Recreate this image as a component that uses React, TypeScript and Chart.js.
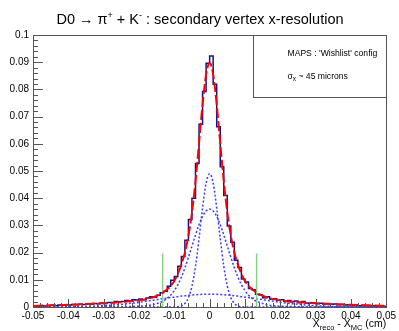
import React, { useEffect, useRef } from "react";
import { Chart, registerables } from "chart.js";

Chart.register(...registerables);

const FONT = '"Liberation Sans", Arial, Helvetica, sans-serif';

// Histogram: 100 bins of width 0.001 cm from -0.05 to 0.05
const histLow = -0.05;
const binWidth = 0.001;
const histCounts = [
  0.0004, 0.0003, 0.0005, 0.0004, 0.0005, 0.0006, 0.0005, 0.0007, 0.0006, 0.0008,
  0.0007, 0.0009, 0.0008, 0.0010, 0.0009, 0.0011, 0.0010, 0.0013, 0.0012, 0.0015,
  0.0013, 0.0017, 0.0016, 0.0020, 0.0019, 0.0020, 0.0024, 0.0022, 0.0027, 0.0026,
  0.0029, 0.0027, 0.0033, 0.0038, 0.0036, 0.0043, 0.0052, 0.0058, 0.0076, 0.0098,
  0.0112, 0.0150, 0.0186, 0.0245, 0.0322, 0.0400, 0.0528, 0.0672, 0.0792, 0.0896,
  0.0923, 0.0819, 0.0663, 0.0516, 0.0410, 0.0298, 0.0238, 0.0172, 0.0145, 0.0103,
  0.0092, 0.0068, 0.0063, 0.0047, 0.0044, 0.0034, 0.0038, 0.0029, 0.0030, 0.0025,
  0.0027, 0.0021, 0.0024, 0.0019, 0.0022, 0.0016, 0.0020, 0.0015, 0.0014, 0.0016,
  0.0012, 0.0014, 0.0011, 0.0012, 0.0010, 0.0011, 0.0008, 0.0009, 0.0007, 0.0008,
  0.0006, 0.0007, 0.0005, 0.0006, 0.0005, 0.0004, 0.0005, 0.0003, 0.0004, 0.0003,
];

// Fit curves sampled at these x positions
const fitX = [
  -0.05, -0.045, -0.04, -0.035, -0.03, -0.025, -0.02, -0.018, -0.016, -0.014, -0.013, -0.012,
  -0.011, -0.01, -0.009, -0.008, -0.007, -0.006, -0.005, -0.004, -0.003, -0.002, -0.001, 0,
  0.001, 0.002, 0.003, 0.004, 0.005, 0.006, 0.007, 0.008, 0.009, 0.01, 0.011, 0.012,
  0.013, 0.014, 0.016, 0.018, 0.02, 0.025, 0.03, 0.035, 0.04, 0.045, 0.05,
];
const fitTotal = [
  0.0004, 0.0006, 0.0008, 0.0011, 0.0014, 0.0018, 0.0024, 0.0029, 0.0036, 0.0047, 0.0055, 0.0065,
  0.0078, 0.0096, 0.0122, 0.0156, 0.0200, 0.0262, 0.0347, 0.0462, 0.0603, 0.0745, 0.0855, 0.0897,
  0.0855, 0.0745, 0.0603, 0.0462, 0.0347, 0.0262, 0.0200, 0.0156, 0.0122, 0.0096, 0.0078, 0.0065,
  0.0055, 0.0047, 0.0036, 0.0029, 0.0024, 0.0018, 0.0014, 0.0011, 0.0008, 0.0006, 0.0004,
];
const fitNarrow = [
  0, 0, 0, 0, 0, 0, 0, 0, 0, 0, 0, 0,
  0, 0, 0.0001, 0.0004, 0.0013, 0.0034, 0.0077, 0.0150, 0.0252, 0.0364, 0.0455, 0.0490,
  0.0455, 0.0364, 0.0252, 0.0150, 0.0077, 0.0034, 0.0013, 0.0004, 0.0001, 0, 0, 0,
  0, 0, 0, 0, 0, 0, 0, 0, 0, 0, 0,
];
const fitMedium = [
  0, 0, 0, 0, 0, 0.0001, 0.0003, 0.0005, 0.0009, 0.0017, 0.0023, 0.0032,
  0.0044, 0.0060, 0.0082, 0.0110, 0.0144, 0.0183, 0.0224, 0.0265, 0.0303, 0.0333, 0.0353, 0.0360,
  0.0353, 0.0333, 0.0303, 0.0265, 0.0224, 0.0183, 0.0144, 0.0110, 0.0082, 0.0060, 0.0044, 0.0032,
  0.0023, 0.0017, 0.0009, 0.0005, 0.0003, 0.0001, 0, 0, 0, 0, 0,
];
const fitBroad = [
  0, 0, 0.0001, 0.0002, 0.0005, 0.0010, 0.0017, 0.0021, 0.0025, 0.0029, 0.0031, 0.0033,
  0.0035, 0.0036, 0.0038, 0.0040, 0.0041, 0.0043, 0.0044, 0.0045, 0.0046, 0.00465, 0.0047, 0.0047,
  0.0047, 0.00465, 0.0046, 0.0045, 0.0044, 0.0043, 0.0041, 0.0040, 0.0038, 0.0036, 0.0035, 0.0033,
  0.0031, 0.0029, 0.0025, 0.0021, 0.0017, 0.0010, 0.0005, 0.0002, 0.0001, 0, 0,
];

// Green marker lines
const markerX = [-0.0133, 0.0133];
const markerHeight = 0.0197;

const titleSegs = [
  { t: "D0 \u2192 \u03c0", sup: false },
  { t: "+", sup: true },
  { t: " + K", sup: false },
  { t: "-", sup: true },
  { t: " : secondary vertex x-resolution", sup: false },
];
const xTitleSegs = [
  { t: "X", sub: false },
  { t: "reco", sub: true },
  { t: " - X", sub: false },
  { t: "MC", sub: true },
  { t: " (cm)", sub: false },
];
const paveLine1 = "MAPS : 'Wishlist' config";
const paveLine2 = [
  { t: "\u03c3", sub: false },
  { t: "x", sub: true },
  { t: " ~ 45 microns", sub: false },
];

function fmt(v: number) {
  return Number(Number(v).toFixed(3)).toString();
}

type Seg = { t: string; size: number; dy: number };
function drawRich(ctx: CanvasRenderingContext2D, segs: Seg[], x: number, y: number, align: string) {
  let total = 0;
  const widths: number[] = [];
  for (const s of segs) {
    ctx.font = `${s.size}px ${FONT}`;
    const w = ctx.measureText(s.t).width;
    widths.push(w);
    total += w;
  }
  let cx = align === "center" ? x - total / 2 : align === "right" ? x - total : x;
  segs.forEach((s, i) => {
    ctx.font = `${s.size}px ${FONT}`;
    ctx.fillText(s.t, cx, y + s.dy);
    cx += widths[i];
  });
}

const rootStyle = {
  id: "rootStyle",
  afterDatasetsDraw(chart: any) {
    const { ctx, chartArea: a, scales } = chart;
    const xs = scales.x;
    const ys = scales.y;
    ctx.save();
    ctx.strokeStyle = "#555";
    ctx.lineWidth = 1;
    ctx.beginPath();
    for (let k = 0; k <= 50; k++) {
      const v = xs.min + (k * (xs.max - xs.min)) / 50;
      const px = Math.round(xs.getPixelForValue(v)) + 0.5;
      const len = k % 5 === 0 ? 8 : 4;
      ctx.moveTo(px, a.bottom);
      ctx.lineTo(px, a.bottom - len);
    }
    for (let k = 0; k <= 50; k++) {
      const v = ys.min + (k * (ys.max - ys.min)) / 50;
      const py = Math.round(ys.getPixelForValue(v)) + 0.5;
      const len = k % 5 === 0 ? 10 : 5;
      ctx.moveTo(a.left, py);
      ctx.lineTo(a.left + len, py);
    }
    ctx.stroke();
    ctx.strokeRect(
      Math.round(a.left) + 0.5,
      Math.round(a.top) + 0.5,
      Math.round(a.right - a.left),
      Math.round(a.bottom - a.top)
    );
    ctx.restore();
  },
  afterDraw(chart: any) {
    const { ctx, chartArea: a } = chart;
    ctx.save();
    ctx.fillStyle = "#000";
    ctx.textBaseline = "alphabetic";
    // title
    drawRich(
      ctx,
      titleSegs.map((s) => ({ t: s.t, size: s.sup ? 9 : 14.5, dy: s.sup ? -6 : 0 })),
      200,
      24,
      "center"
    );
    // x-axis title
    drawRich(
      ctx,
      xTitleSegs.map((s) => ({ t: s.t, size: s.sub ? 7.5 : 10.5, dy: s.sub ? 3 : 0 })),
      a.right,
      327,
      "right"
    );
    // pave
    const pl = Math.round(a.right - 133) + 0.5;
    const pt = Math.round(a.top) + 0.5;
    const pw = Math.round(a.right) - Math.round(a.right - 133);
    const ph = 62;
    ctx.fillStyle = "#fff";
    ctx.fillRect(pl, pt, pw, ph);
    ctx.strokeStyle = "#555";
    ctx.lineWidth = 1;
    ctx.strokeRect(pl, pt, pw, ph);
    ctx.fillStyle = "#000";
    ctx.font = `8.6px ${FONT}`;
    ctx.fillText(paveLine1, pl + 34, pt + 20);
    drawRich(
      ctx,
      paveLine2.map((s) => ({ t: s.t, size: s.sub ? 6.5 : 8.6, dy: s.sub ? 2 : 0 })),
      pl + 34,
      pt + 43,
      "left"
    );
    ctx.restore();
  },
};

export default function App() {
  const ref = useRef<HTMLCanvasElement | null>(null);
  useEffect(() => {
    if (!ref.current) return;
    const histData = histCounts.map((c, i) => ({ x: histLow + i * binWidth, y: c }));
    histData.push({ x: histLow + histCounts.length * binWidth, y: histCounts[histCounts.length - 1] });
    const curve = (ys: number[]) => fitX.map((x, i) => ({ x, y: ys[i] }));
    const dotted = {
      borderColor: "#3c3cff",
      borderWidth: 1.5,
      borderDash: [2, 2],
      pointRadius: 0,
      cubicInterpolationMode: "monotone" as const,
      fill: false,
    };
    const chart = new Chart(ref.current, {
      type: "line",
      data: {
        datasets: [
          {
            label: "fit",
            data: curve(fitTotal),
            borderColor: "#ff0000",
            borderWidth: 2,
            borderDash: [10, 3],
            pointRadius: 0,
            cubicInterpolationMode: "monotone",
            fill: false,
          },
          {
            label: "m1",
            data: [
              { x: markerX[0], y: 0 },
              { x: markerX[0], y: markerHeight },
            ],
            borderColor: "#84d384",
            borderWidth: 1.5,
            pointRadius: 0,
          },
          {
            label: "m2",
            data: [
              { x: markerX[1], y: 0 },
              { x: markerX[1], y: markerHeight },
            ],
            borderColor: "#84d384",
            borderWidth: 1.5,
            pointRadius: 0,
          },
          { label: "narrow", data: curve(fitNarrow), ...dotted },
          { label: "medium", data: curve(fitMedium), ...dotted },
          { label: "broad", data: curve(fitBroad), ...dotted },
          {
            label: "hist",
            data: histData,
            borderColor: "#12128c",
            borderWidth: 1.5,
            stepped: true,
            pointRadius: 0,
            fill: false,
          },
        ],
      },
      options: {
        animation: false,
        responsive: false,
        devicePixelRatio: 1,
        layout: { padding: { top: 35, right: 11, left: 0, bottom: 0 } },
        plugins: {
          legend: { display: false },
          tooltip: { enabled: false },
          title: { display: false },
        },
        scales: {
          x: {
            type: "linear",
            min: -0.05,
            max: 0.05,
            grid: { display: false, drawTicks: false },
            border: { display: false },
            ticks: {
              stepSize: 0.01,
              autoSkip: false,
              maxRotation: 0,
              minRotation: 0,
              padding: 3,
              color: "#000",
              font: { family: FONT, size: 10 },
              callback: (v: any) => fmt(v),
            },
            afterFit: (s: any) => {
              s.height = 24;
            },
          },
          y: {
            type: "linear",
            min: 0,
            max: 0.1,
            grid: { display: false, drawTicks: false },
            border: { display: false },
            ticks: {
              stepSize: 0.01,
              autoSkip: false,
              padding: 4,
              color: "#000",
              font: { family: FONT, size: 10 },
              callback: (v: any) => fmt(v),
            },
            afterFit: (s: any) => {
              s.width = 33;
            },
          },
        },
      },
      plugins: [rootStyle],
    });
    return () => chart.destroy();
  }, []);
  return (
    <div style={{ position: "fixed", left: 0, top: 0, width: 399, height: 331, background: "#fff" }}>
      <canvas ref={ref} width={399} height={331} />
    </div>
  );
}
